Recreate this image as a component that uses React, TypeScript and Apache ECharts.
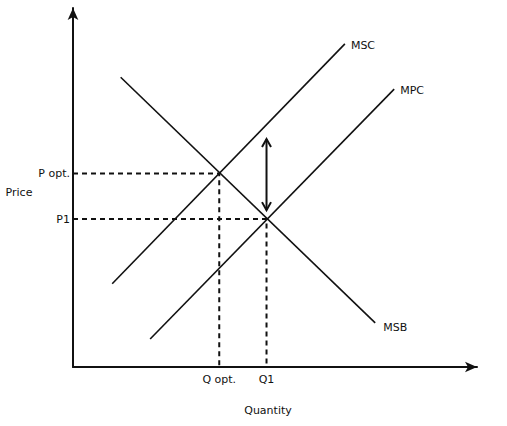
import React, { useEffect, useRef } from "react";
import * as echarts from "echarts";

// Curves: [quantity, price] end points (arbitrary units 0..100)
const msbPoints = [[11.8, 80.7], [74.8, 12.3]];
const mscPoints = [[9.7, 23.2], [67.3, 90.0]];
const mpcPoints = [[19.1, 7.8], [79.5, 77.4]];
const curveNames = ["MSB", "MSC", "MPC"];

// Tick labels on the axes
const priceTicks = [53.9, 41.2];
const priceLabels = ["P opt.", "P1"];
const qtyTicks = [36.2, 47.9];
const qtyLabels = ["Q opt.", "Q1"];

// Double arrow (x, top, bottom)
const arrowX = 47.9;
const arrowTop = 63.5;
const arrowBottom = 43.7;

const FONT = "DejaVu Sans";
const INK = "#111";

function findLabel(v: number, ticks: number[], labels: string[]) {
  const i = ticks.findIndex((t) => Math.abs(t - v) < 0.01);
  return i >= 0 ? labels[i] : "";
}

export default function App() {
  const ref = useRef<HTMLDivElement>(null);
  useEffect(() => {
    const chart = echarts.init(ref.current!, null, { renderer: "svg" });
    const curves = [msbPoints, mscPoints, mpcPoints];
    const endOffsets = [[2, 5], [0, 2], [0, 1]];
    const curveSeries = curves.map((pts, i) => ({
      type: "line",
      name: curveNames[i],
      data: pts,
      showSymbol: false,
      silent: true,
      lineStyle: { color: INK, width: 1.6 },
      endLabel: {
        show: true,
        formatter: curveNames[i],
        color: INK,
        fontFamily: FONT,
        fontSize: 11,
        distance: 6,
        offset: endOffsets[i],
      },
    }));
    const guideSeries = priceTicks.map((p, i) => ({
      type: "line",
      data: [[0, p], [qtyTicks[i], p], [qtyTicks[i], 0]],
      showSymbol: false,
      silent: true,
      lineStyle: { color: INK, width: 2, type: [5, 4] },
    }));
    const option: any = {
      animation: false,
      backgroundColor: "#fff",
      grid: { left: 73, right: 30, top: 8, bottom: 59, containLabel: false },
      xAxis: {
        type: "value",
        min: 0,
        max: 100,
        name: "Quantity",
        nameLocation: "middle",
        nameGap: 38,
        nameTextStyle: { color: INK, fontFamily: FONT, fontSize: 11, padding: [0, 14, 0, 0] },
        splitLine: { show: false },
        axisTick: { show: false },
        axisLine: {
          show: true,
          onZero: false,
          symbol: ["none", "arrow"],
          symbolSize: [8, 12],
          lineStyle: { color: INK, width: 2 },
        },
        axisLabel: {
          customValues: qtyTicks,
          formatter: (v: number) => findLabel(v, qtyTicks, qtyLabels),
          margin: 7,
          color: INK,
          fontFamily: FONT,
          fontSize: 11,
        },
      },
      yAxis: {
        type: "value",
        min: 0,
        max: 100,
        name: "Price",
        nameLocation: "middle",
        nameRotate: 0,
        nameGap: 39,
        nameTextStyle: {
          color: INK,
          fontFamily: FONT,
          fontSize: 11,
          verticalAlign: "top",
          lineHeight: 9,
        },
        splitLine: { show: false },
        axisTick: { show: false },
        axisLine: {
          show: true,
          onZero: false,
          symbol: ["none", "arrow"],
          symbolSize: [8, 12],
          lineStyle: { color: INK, width: 2 },
        },
        axisLabel: {
          customValues: priceTicks,
          formatter: (v: number) => findLabel(v, priceTicks, priceLabels),
          margin: 3,
          color: INK,
          fontFamily: FONT,
          fontSize: 11,
        },
      },
      series: [
        ...guideSeries,
        ...curveSeries,
        {
          type: "custom",
          silent: true,
          data: [[arrowX, arrowTop, arrowBottom]],
          encode: { x: 0, y: [1, 2] },
          renderItem: (params: any, api: any) => {
            const a = api.coord([api.value(0), api.value(1)]);
            const b = api.coord([api.value(0), api.value(2)]);
            const hw = 4.5;
            const hl = 8;
            const style = { stroke: INK, lineWidth: 2, fill: "none" };
            return {
              type: "group",
              children: [
                { type: "line", shape: { x1: a[0], y1: a[1], x2: b[0], y2: b[1] }, style },
                {
                  type: "polyline",
                  shape: { points: [[a[0] - hw, a[1] + hl], [a[0], a[1]], [a[0] + hw, a[1] + hl]] },
                  style,
                },
                {
                  type: "polyline",
                  shape: { points: [[b[0] - hw, b[1] - hl], [b[0], b[1]], [b[0] + hw, b[1] - hl]] },
                  style,
                },
              ],
            };
          },
        },
      ],
    };
    chart.setOption(option);
    return () => chart.dispose();
  }, []);
  return (
    <div
      ref={ref}
      style={{ position: "fixed", left: 0, top: 0, width: 507, height: 426, background: "#fff" }}
    />
  );
}
